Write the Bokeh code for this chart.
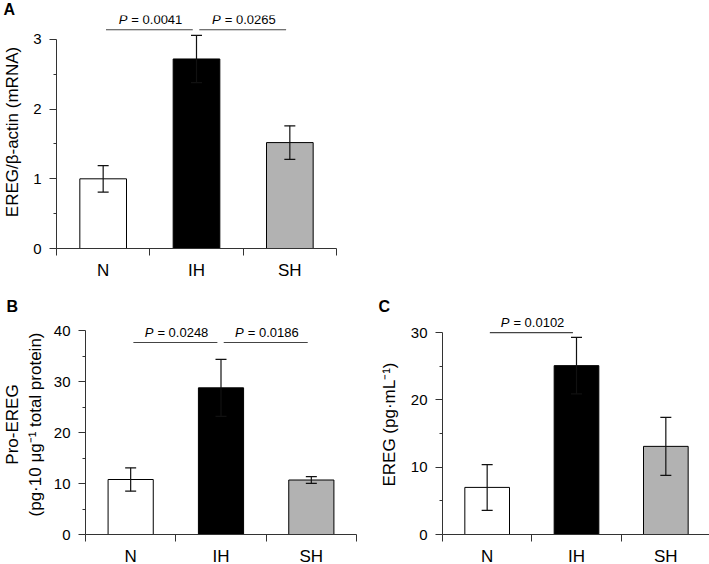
from bokeh.plotting import figure
from bokeh.models import ColumnDataSource, Whisker, TeeHead, FixedTicker, Label, Range1d
from bokeh.layouts import column, row
from bokeh.embed import file_html
from bokeh.resources import INLINE

# ---- data ----
categories = ["N", "IH", "SH"]
bar_colors = ["#ffffff", "#000000", "#b2b2b2"]

a_mean = [1.00, 2.72, 1.52]
a_err = [0.19, 0.34, 0.24]
a_pvals = ["0.0041", "0.0265"]
a_pairs = [(0, 1), (1, 2)]

b_mean = [10.8, 28.8, 10.7]
b_err = [2.3, 5.6, 0.65]
b_pvals = ["0.0248", "0.0186"]
b_pairs = [(0, 1), (1, 2)]

c_mean = [7.0, 25.1, 13.1]
c_err = [3.4, 4.2, 4.3]
c_pvals = ["0.0102"]
c_pairs = [(0, 1)]

a_yticks = [0, 1, 2, 3]
a_yminor = [0.5, 1.5, 2.5]
b_yticks = [0, 10, 20, 30, 40]
b_yminor = [5, 15, 25, 35]
c_yticks = [0, 10, 20, 30]
c_yminor = [5, 15, 25]

FONT = "Liberation Sans"
AX = "#333333"


def panel(mean, err, pvals, pairs, yticks, yminor, ytop, ylabel, letter,
          letter_dx, title_standoff, sig_y, fw, fh, bl, br, bt, bb, ylab_standoff):
    p = figure(x_range=Range1d(0, 3), y_range=Range1d(0, ytop),
               frame_width=fw, frame_height=fh,
               min_border_left=bl, min_border_right=br,
               min_border_top=bt, min_border_bottom=bb,
               output_backend="svg", toolbar_location=None, tools="")
    p.outline_line_color = None
    p.grid.visible = False
    p.background_fill_color = "white"
    p.border_fill_color = "white"

    # panel letter as a left-aligned title shifted over the axis area
    p.title.text = letter
    p.title.align = "left"
    p.title.vertical_align = "bottom"
    p.title.offset = letter_dx
    p.title.standoff = title_standoff
    p.title.text_font = FONT
    p.title.text_font_size = "16px"
    p.title.text_font_style = "bold"
    p.title.text_color = "black"

    xs = [i + 0.5 for i in range(len(categories))]
    src = ColumnDataSource(dict(
        x=xs, top=mean,
        upper=[m + e for m, e in zip(mean, err)],
        lower=[m - e for m, e in zip(mean, err)],
        fill=bar_colors,
    ))
    p.vbar(x="x", top="top", bottom=0, width=0.5, fill_color="fill",
           line_color="black", line_width=1, source=src)
    w = Whisker(base="x", upper="upper", lower="lower", source=src,
                line_color="#111111", line_width=1.2,
                upper_head=TeeHead(size=11, line_color="#111111", line_width=1.2),
                lower_head=TeeHead(size=11, line_color="#111111", line_width=1.2),
                level="overlay")
    p.add_layout(w)

    # x axis
    xa = p.xaxis[0]
    xa.ticker = FixedTicker(ticks=xs, minor_ticks=[0, 1, 2, 3])
    xa.major_label_overrides = {x: c for x, c in zip(xs, categories)}
    xa.major_tick_out = 0
    xa.major_tick_in = 0
    xa.minor_tick_out = 7
    xa.minor_tick_in = 0
    xa.major_label_standoff = 5
    xa.major_label_text_font = FONT
    xa.major_label_text_font_size = "17px"
    xa.major_label_text_color = "black"
    xa.axis_line_color = AX
    xa.minor_tick_line_color = AX

    # y axis
    ya = p.yaxis[0]
    ya.ticker = FixedTicker(ticks=yticks, minor_ticks=yminor)
    ya.bounds = (0, yticks[-1])
    ya.major_tick_out = 7
    ya.major_tick_in = 0
    ya.minor_tick_out = 3
    ya.minor_tick_in = 0
    ya.major_label_standoff = 8
    ya.major_label_text_font = FONT
    ya.major_label_text_font_size = "15px"
    ya.major_label_text_color = "black"
    ya.axis_line_color = AX
    ya.major_tick_line_color = AX
    ya.minor_tick_line_color = AX
    ya.axis_label = ylabel
    ya.axis_label_text_font = FONT
    ya.axis_label_text_font_size = "17px"
    ya.axis_label_text_font_style = "normal"
    ya.axis_label_text_color = "black"
    ya.axis_label_standoff = ylab_standoff

    # significance brackets
    for (i, j), pv in zip(pairs, pvals):
        x0 = i + 0.5 + 0.03
        x1 = j + 0.5 - 0.04
        p.segment(x0=[x0], y0=[sig_y], x1=[x1], y1=[sig_y],
                  line_color="#444444", line_width=1.1)
        xm = (x0 + x1) / 2
        p.add_layout(Label(x=xm, y=sig_y, text="P", text_align="right",
                           x_offset=-22, y_offset=3, text_font=FONT,
                           text_font_size="13px", text_font_style="italic",
                           text_baseline="bottom", text_color="black"))
        p.add_layout(Label(x=xm, y=sig_y, text="= " + pv, text_align="left",
                           x_offset=-18, y_offset=3, text_font=FONT,
                           text_font_size="13px", text_baseline="bottom",
                           text_color="black"))
    return p


pA = panel(a_mean, a_err, a_pvals, a_pairs, a_yticks, a_yminor, 3.344,
           "EREG/β-actin (mRNA)", "A", -53, -4, 3.14,
           fw=280, fh=233, bl=56, br=8, bt=15, bb=42, ylab_standoff=8)

pB = panel(b_mean, b_err, b_pvals, b_pairs, b_yticks, b_yminor, 43.2,
           "Pro-EREG\n(pg·10 μg⁻¹ total protein)", "B", -79, 0, 37.7,
           fw=271, fh=220, bl=82, br=6, bt=24, bb=30, ylab_standoff=6)

pC = panel(c_mean, c_err, c_pvals, c_pairs, c_yticks, c_yminor, 32.7,
           "EREG (pg·mL⁻¹)", "C", -64, 0, 30.0,
           fw=268, fh=220, bl=80, br=2, bt=24, bb=30, ylab_standoff=9)

layout = column(pA, row(pB, pC))

open("out.html", "w").write(file_html(layout, INLINE))
